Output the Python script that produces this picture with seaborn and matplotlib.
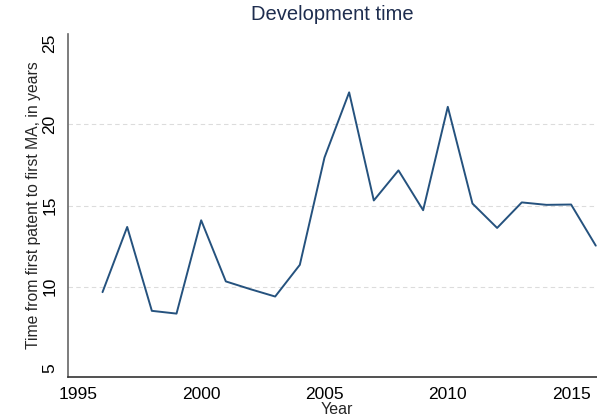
import pandas as pd
import seaborn as sns
import matplotlib.pyplot as plt

# Values
years = list(range(1996, 2017))
dev_time = [9.67, 13.68, 8.52, 8.35, 14.09, 10.33, 9.85, 9.40, 11.35, 17.95,
            21.96, 15.31, 17.16, 14.71, 21.07, 15.12, 13.62, 15.19, 15.04, 15.06, 12.53]
x_ticks = [1995, 2000, 2005, 2010, 2015]
y_ticks = [5, 10, 15, 20, 25]
grid_levels = [10, 15, 20]

df = pd.DataFrame({'Year': years, 'time': dev_time})

sns.set_style('white')
plt.rcParams['font.family'] = ['Liberation Sans', 'DejaVu Sans']

W, H = 597, 416
fig = plt.figure(figsize=(W / 100, H / 100), dpi=100)
ax = fig.add_axes([68 / W, (H - 377) / H, (W - 68) / W, (377 - 34) / H])

for g in grid_levels:
    ax.axhline(g, color='#dcdcdc', lw=0.8, ls=(0, (4, 3)), zorder=0)

sns.lineplot(data=df, x='Year', y='time', ax=ax, color='#25527e', lw=1.4)
ax.lines[-1].set_clip_on(False)

ax.set_xlim(1994.6, 2016.05)
ax.set_ylim(4.45, 25.55)
ax.set_xticks(x_ticks)
ax.set_yticks(y_ticks)
ax.tick_params(axis='both', direction='out', length=5, width=1, labelsize=12.5,
               colors='#333333', labelcolor='black', pad=2.5)
ax.tick_params(axis='y', labelrotation=90)
for lab in ax.get_yticklabels():
    lab.set_va('center')

sns.despine(ax=ax, top=True, right=True)
ax.spines['left'].set_color('#666666')
ax.spines['bottom'].set_color('#333333')
ax.spines['left'].set_linewidth(1.2)
ax.spines['bottom'].set_linewidth(1.2)

ax.set_xlabel('Year', fontsize=11.5)
ax.xaxis.set_label_coords(0.508, -0.074, transform=ax.transAxes)
ax.xaxis.label.set_va('top')
ax.set_ylabel('Time from first patent to first MA, in years', fontsize=11.3, labelpad=1)
fig.text(332 / W, 1 - 15 / H, 'Development time', ha='center', va='center',
         fontsize=14.5, color='#1e2d4f')

fig.savefig('out.png', dpi=100)
